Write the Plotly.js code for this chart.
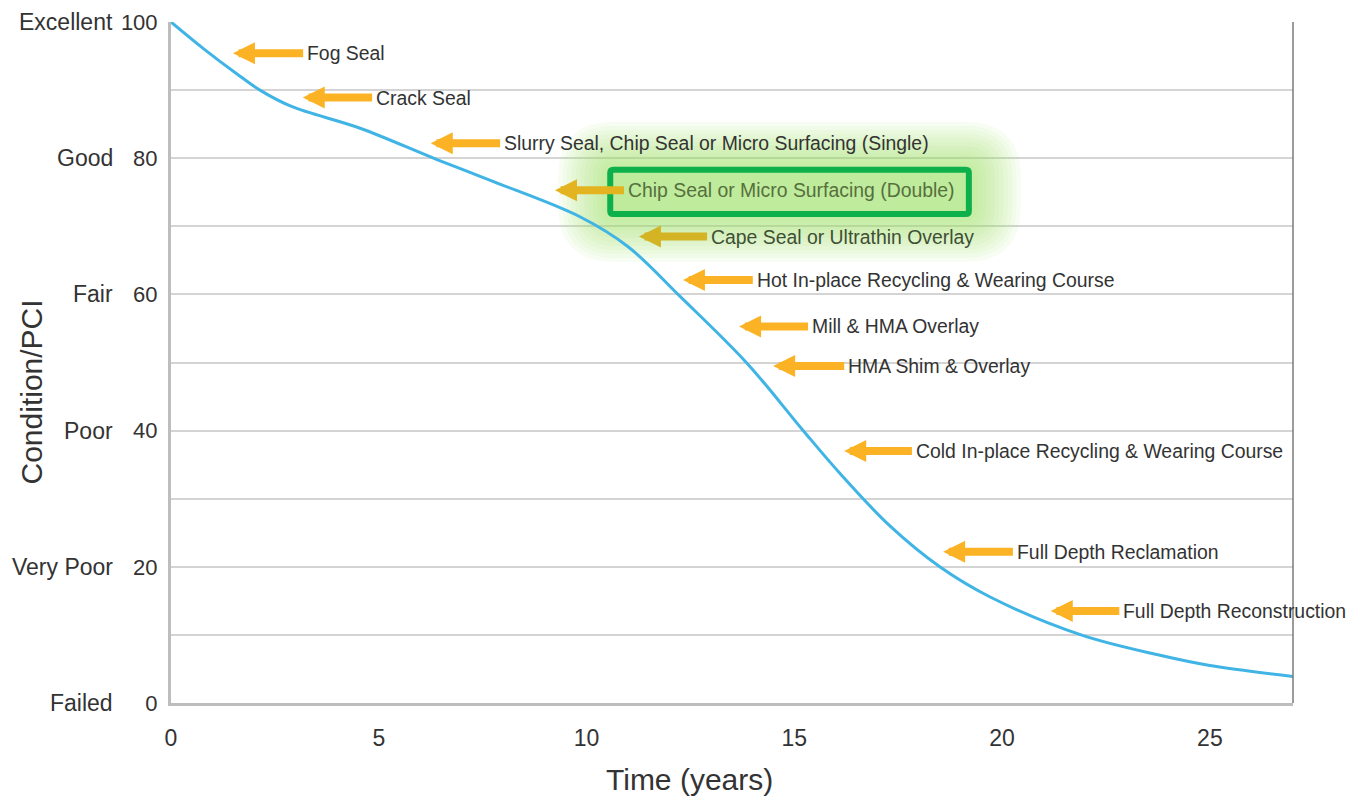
<!DOCTYPE html>
<html>
<head>
<meta charset="utf-8">
<script src="https://cdn.plot.ly/plotly-3.0.1.min.js"></script>
<style>
  html, body { margin: 0; padding: 0; background: #ffffff; }
  #chart { width: 1352px; height: 805px; }
</style>
</head>
<body>
<div id="chart"></div>
<script>
// ---- Data ----
const years = [0, 0.78, 1.58, 2.14, 2.9, 4.55, 6.4, 7.7, 9.84, 11, 12.25, 13.86, 15.2, 16.1, 17.3, 18.5, 19.7, 21.9, 23.8, 25, 27];
const pci   = [100, 96.1, 92.4, 90, 87.6, 84.4, 79.8, 76.7, 71.4, 67, 59.7, 49.9, 40.1, 33.7, 26.0, 20, 15.6, 10, 7.0, 5.5, 3.9];

const treatments = [
  "Fog Seal",
  "Crack Seal",
  "Slurry Seal, Chip Seal or Micro Surfacing (Single)",
  "Chip Seal or Micro Surfacing (Double)",
  "Cape Seal or Ultrathin Overlay",
  "Hot In-place Recycling & Wearing Course",
  "Mill & HMA Overlay",
  "HMA Shim & Overlay",
  "Cold In-place Recycling & Wearing Course",
  "Full Depth Reclamation",
  "Full Depth Reconstruction"
];
const arrowTipX  = [1.49, 3.17, 6.25, 9.24, 11.26, 12.32, 13.67, 14.49, 16.2, 18.58, 21.17];
const arrowTailX = [3.18, 4.84, 7.92, 10.9, 12.9, 14.0, 15.33, 16.2, 17.83, 20.26, 22.82];
const arrowY     = [95.4, 88.9, 82.2, 75.3, 68.5, 62.1, 55.3, 49.5, 37.0, 22.2, 13.5];

const yTickVals   = [0, 10, 20, 30, 40, 50, 60, 70, 80, 90, 100];
const yTickText   = ["0", "", "20", "", "40", "", "60", "", "80", "", "100"];
const conditionVals  = [100, 80, 60, 40, 20, 0];
const conditionNames = ["Excellent", "Good", "Fair", "Poor", "Very Poor", "Failed"];
const xTickVals = [0, 5, 10, 15, 20, 25];

const highlighted = "Chip Seal or Micro Surfacing (Double)";

// ---- Styling ----
const FONT = "'Liberation Sans', Arial, Helvetica, sans-serif";
const TEXT = "#333333";
const ORANGE = "#fbb325";

const trace = {
  x: years, y: pci, type: "scatter", mode: "lines",
  line: { color: "#3fb4e5", width: 3, shape: "spline", smoothing: 1 },
  hoverinfo: "skip", showlegend: false
};

const annotations = [];
treatments.forEach((t, i) => {
  const hl = (t === highlighted);
  const inGlow = hl || t === "Cape Seal or Ultrathin Overlay";
  annotations.push({
    x: arrowTipX[i], y: arrowY[i], xref: "x", yref: "y",
    ax: arrowTailX[i], ay: arrowY[i], axref: "x", ayref: "y",
    text: t, xanchor: "left", yanchor: "middle",
    showarrow: true, arrowhead: 2, arrowsize: 0.55, arrowwidth: 8,
    arrowcolor: inGlow ? (hl ? "#e3b41f" : "#d4b424") : ORANGE,
    standoff: 0, startstandoff: 0, borderpad: 3,
    font: { family: FONT, size: 19.4, color: hl ? "#56703c" : (inGlow ? "#3f4f34" : TEXT) }
  });
});
conditionNames.forEach((n, i) => {
  annotations.push({
    x: 0, y: conditionVals[i], xref: "paper", yref: "y",
    xshift: -56, xanchor: "right", yanchor: "middle", showarrow: false,
    text: n, font: { family: FONT, size: 23, color: TEXT }
  });
});
annotations.push({
  x: 0, y: 0.5, xref: "paper", yref: "paper", xshift: -140, yshift: -30,
  xanchor: "center", yanchor: "middle",
  textangle: -90, showarrow: false, text: "Condition/PCI",
  font: { family: FONT, size: 30, color: TEXT }
});
annotations.push({
  x: 0.5, y: 0, xref: "paper", yref: "paper", xshift: -43, yshift: -76,
  xanchor: "center", yanchor: "middle", showarrow: false, text: "Time (years)",
  font: { family: FONT, size: 30, color: TEXT }
});

// glow + highlight box (pixel sizes converted to data units)
const PXX = 1 / 41.55, PXY = 1 / 6.81;
function rrect(x0, y0, x1, y1, r) {
  const rx = r * PXX, ry = r * PXY;
  return `M${x0 + rx},${y0} L${x1 - rx},${y0} Q${x1},${y0} ${x1},${y0 + ry} L${x1},${y1 - ry} Q${x1},${y1} ${x1 - rx},${y1} L${x0 + rx},${y1} Q${x0},${y1} ${x0},${y1 - ry} L${x0},${y0 + ry} Q${x0},${y0} ${x0 + rx},${y0} Z`;
}
const bx0 = 10.57, bx1 = 19.2, by0 = 71.8, by1 = 78.3;
const shapes = [];
const N = 12;
for (let k = N; k >= 1; k--) {
  const mx = 52 * k / N, my = 48 * k / N;
  shapes.push({
    type: "path", layer: "between", xref: "x", yref: "y",
    path: rrect(bx0 - mx * PXX, by0 - my * PXY, bx1 + mx * PXX, by1 + my * PXY, Math.min(mx, my) + 8),
    fillcolor: "rgba(160,226,110,0.075)", line: { width: 0 }
  });
}
shapes.push({
  type: "path", layer: "between", xref: "x", yref: "y",
  path: rrect(bx0, by0, bx1, by1, 3),
  fillcolor: "rgba(175,232,140,0.25)", line: { color: "#0db04b", width: 6 }
});
shapes.push({
  type: "line", xref: "paper", yref: "paper", x0: 1, x1: 1, y0: 0, y1: 1,
  line: { color: "#7a7a7a", width: 1.5 }, layer: "above"
});

const layout = {
  width: 1352, height: 805,
  margin: { l: 171, r: 59, t: 22, b: 102 },
  paper_bgcolor: "#ffffff", plot_bgcolor: "#ffffff",
  showlegend: false,
  xaxis: {
    range: [0, 27], tickvals: xTickVals, showgrid: false, zeroline: false,
    showline: true, linecolor: "#bdbdbd", linewidth: 3,
    ticks: "", ticklabelstandoff: 12,
    tickfont: { family: FONT, size: 23, color: TEXT }
  },
  yaxis: {
    range: [0, 100], tickvals: yTickVals, ticktext: yTickText,
    showgrid: true, gridcolor: "#d4d4d4", gridwidth: 2, zeroline: false,
    showline: true, linecolor: "#bdbdbd", linewidth: 3,
    ticks: "", ticklabelstandoff: 6,
    tickfont: { family: FONT, size: 22, color: TEXT }
  },
  annotations: annotations,
  shapes: shapes
};

Plotly.newPlot("chart", [trace], layout, { displayModeBar: false, staticPlot: true });
</script>
</body>
</html>
